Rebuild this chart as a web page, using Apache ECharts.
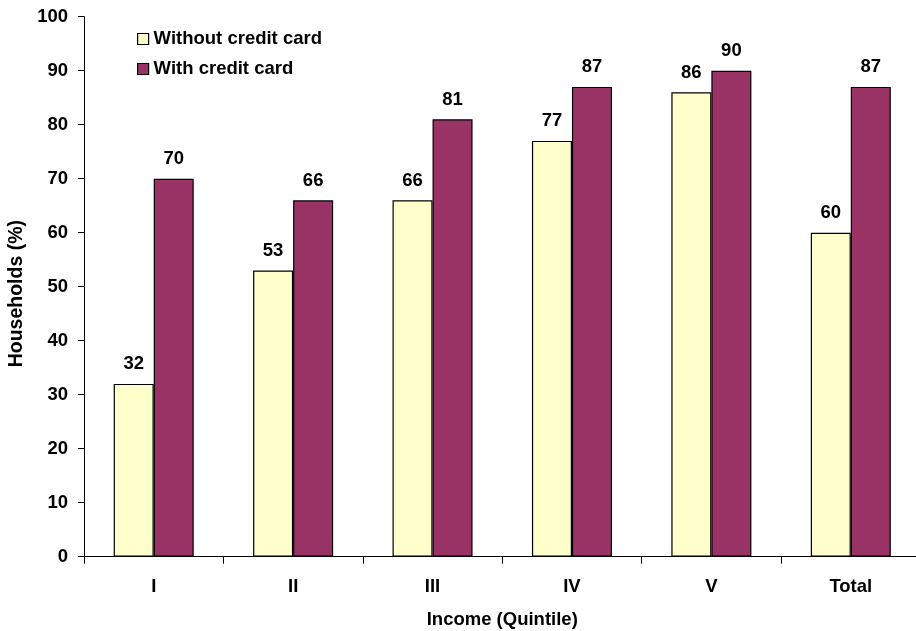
<!DOCTYPE html>
<html>
<head>
<meta charset="utf-8">
<script src="https://cdn.jsdelivr.net/npm/echarts@6/dist/echarts.min.js"></script>
<style>
  html, body { margin: 0; padding: 0; background: #ffffff; }
  #chart { width: 916px; height: 631px; }
</style>
</head>
<body>
<div id="chart"></div>
<script>
// Household share by income quintile, with and without a credit card
const categories = ['I', 'II', 'III', 'IV', 'V', 'Total'];
const withoutCard = [32, 53, 66, 77, 86, 60];
const withCard = [70, 66, 81, 87, 90, 87];
const yTicks = [0, 10, 20, 30, 40, 50, 60, 70, 80, 90, 100];

const FONT = '"Liberation Sans", Arial, sans-serif';
const FS = 18.5;

const chart = echarts.init(document.getElementById('chart'), null, { renderer: 'canvas' });

const labelStyle = {
  show: true,
  position: 'top',
  distance: 10,
  color: '#000',
  fontFamily: FONT,
  fontWeight: 'bold',
  fontSize: FS
};

chart.setOption({
  animation: false,
  backgroundColor: '#ffffff',
  textStyle: { fontFamily: FONT },
  grid: {
    left: 84, right: -4.5, top: 16.7, bottom: 74.3,
    containLabel: false,
    outerBoundsMode: 'none'
  },
  legend: {
    orient: 'vertical',
    left: 132,
    top: 24,
    icon: 'rect',
    itemWidth: 11,
    itemHeight: 11,
    itemGap: 10,
    itemStyle: { borderColor: '#000', borderWidth: 1.2 },
    textStyle: { color: '#000', fontFamily: FONT, fontWeight: 'bold', fontSize: FS, lineHeight: 20 },
    data: ['Without credit card', 'With credit card']
  },
  xAxis: {
    type: 'category',
    data: categories,
    name: 'Income (Quintile)',
    nameLocation: 'middle',
    nameGap: 54,
    nameTextStyle: { color: '#000', fontFamily: FONT, fontWeight: 'bold', fontSize: FS },
    axisLine: { lineStyle: { color: '#000', width: 1 } },
    axisTick: { show: true, inside: false, length: 7, alignWithLabel: false, lineStyle: { color: '#000' } },
    axisLabel: { color: '#000', fontFamily: FONT, fontWeight: 'bold', fontSize: FS, margin: 21 },
    splitLine: { show: false }
  },
  yAxis: {
    type: 'value',
    min: yTicks[0],
    max: yTicks[yTicks.length - 1],
    interval: yTicks[1] - yTicks[0],
    name: 'Households (%)',
    nameLocation: 'middle',
    nameGap: 52,
    nameTextStyle: { color: '#000', fontFamily: FONT, fontWeight: 'bold', fontSize: 19.5, padding: [0, 14, 0, 0] },
    axisLine: { show: true, lineStyle: { color: '#000', width: 1 } },
    axisTick: { show: true, inside: false, length: 6, lineStyle: { color: '#000' } },
    axisLabel: { color: '#000', fontFamily: FONT, fontWeight: 'bold', fontSize: FS, margin: 16 },
    splitLine: { show: false }
  },
  series: [
    {
      name: 'Without credit card',
      type: 'bar',
      data: withoutCard,
      barGap: '0%',
      barCategoryGap: '42.6%',
      itemStyle: { color: '#FFFFCC', borderColor: '#000', borderWidth: 1.2 },
      label: labelStyle
    },
    {
      name: 'With credit card',
      type: 'bar',
      data: withCard,
      barGap: '0%',
      barCategoryGap: '42.6%',
      itemStyle: { color: '#993366', borderColor: '#000', borderWidth: 1.2 },
      label: labelStyle
    }
  ]
});
</script>
</body>
</html>
